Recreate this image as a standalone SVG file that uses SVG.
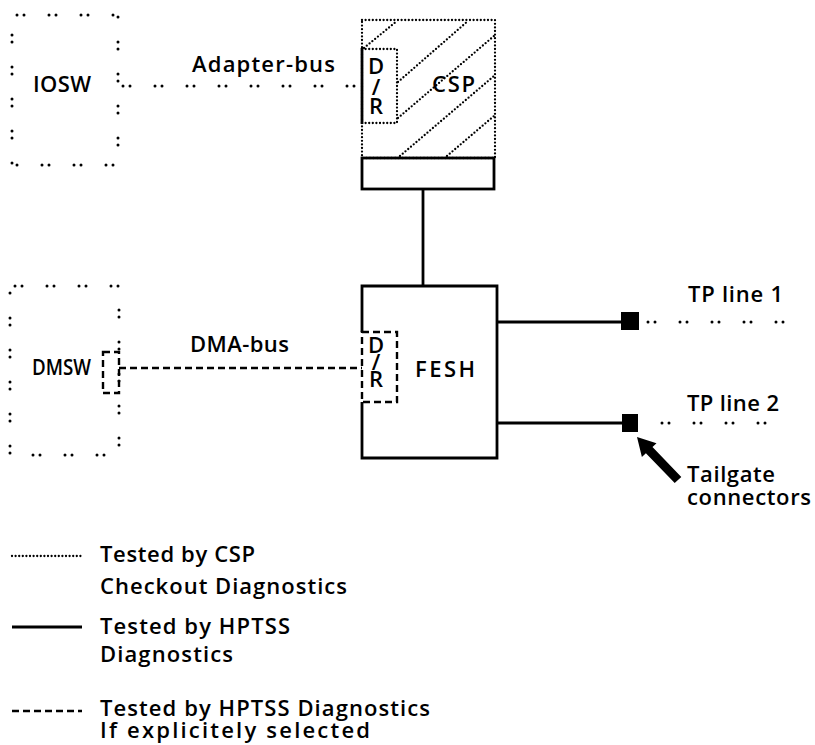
<svg xmlns="http://www.w3.org/2000/svg" width="815" height="745" viewBox="0 0 815 745">
<defs>
<style>
text{font-family:"Open Sans","DejaVu Sans",sans-serif;font-weight:600;font-size:22px;fill:#000}
.dd{fill:none;stroke:#000;stroke-width:3;stroke-linecap:round;stroke-dasharray:0 7 0 25}
.dot{fill:none;stroke:#000;stroke-width:2.3;stroke-linecap:round;stroke-dasharray:0 3.6}
.dash{fill:none;stroke:#000;stroke-width:2.4;stroke-dasharray:7 4}
.solid{fill:none;stroke:#000;stroke-width:2.8}
</style>
</defs>
<rect width="815" height="745" fill="#fff"/>

<g id="IOSW">
<rect class="dd" x="12" y="15" width="106" height="150" stroke-dashoffset="27"/>
<text x="33" y="92" textLength="58">IOSW</text>
</g>

<g id="DMSW">
<rect class="dd" x="10" y="286" width="109" height="169" stroke-dashoffset="27"/>
<rect class="dash" x="103" y="352" width="16" height="41"/>
<text x="32" y="375" textLength="59" lengthAdjust="spacingAndGlyphs">DMSW</text>
</g>

<g id="CSP">
<rect class="dot" x="362" y="20" width="133" height="138"/>
<g class="dot">
<line x1="364" y1="48" x2="397" y2="21"/>
<line x1="398" y1="82" x2="468" y2="21"/>
<line x1="398" y1="118" x2="494" y2="36"/>
<line x1="400" y1="156" x2="494" y2="76"/>
<line x1="447" y1="156" x2="494" y2="116"/>
</g>
<path class="dot" d="M362,49 H397 V123 H362"/>
<line class="solid" x1="362" y1="48" x2="362" y2="124" stroke-width="3.2"/>
<text text-anchor="middle"><tspan x="376" y="74">D</tspan><tspan x="376" y="95">/</tspan><tspan x="376" y="114">R</tspan></text>
<text x="432" y="92" textLength="43">CSP</text>
<rect class="solid" x="362" y="158" width="132" height="31"/>
</g>

<g id="FESH">
<path class="solid" d="M362,332 V286 H497 V458 H362 V402"/>
<rect class="dash" x="362" y="332" width="35" height="70"/>
<text text-anchor="middle"><tspan x="376" y="353">D</tspan><tspan x="376" y="370">/</tspan><tspan x="376" y="387">R</tspan></text>
<text x="415" y="377" textLength="60">FESH</text>
</g>

<g id="TP1">
<rect x="621" y="312" width="18" height="18" fill="#000"/>
<text x="688" y="302" textLength="95">TP line 1</text>
</g>

<g id="TP2">
<rect x="622" y="414" width="16" height="18" fill="#000"/>
<text x="687" y="411" textLength="92">TP line 2</text>
</g>

<g id="tailgate-label">
<polygon points="637,437 656.5,443.3 652.5,447 681.3,476.9 674.7,483.1 645.9,453.2 641.9,456.9" fill="#000"/>
<text x="687" y="482" textLength="88">Tailgate</text>
<text x="687" y="505" textLength="124">connectors</text>
</g>

<g id="connectors">
<line class="dd" x1="118" y1="86" x2="362" y2="86" stroke-dashoffset="27"/>
<text x="192" y="72" textLength="143">Adapter-bus</text>
<line class="dash" x1="119" y1="368" x2="362" y2="368"/>
<text x="190" y="352" textLength="99">DMA-bus</text>
<line class="solid" x1="423" y1="189" x2="423" y2="286"/>
<line class="solid" x1="497" y1="322" x2="621" y2="322"/>
<line class="dd" x1="648" y1="322" x2="792" y2="322"/>
<line class="solid" x1="497" y1="423" x2="622" y2="423"/>
<line class="dd" x1="662" y1="423" x2="770" y2="423"/>
</g>

<g id="legend">
<line class="dot" x1="12" y1="556" x2="82" y2="556" stroke-width="1.6" stroke-dasharray="0 3"/>
<text x="100" y="562" textLength="155">Tested by CSP</text>
<text x="100" y="594" textLength="247">Checkout Diagnostics</text>
<line class="solid" x1="12" y1="627" x2="82" y2="627"/>
<text x="100" y="634" textLength="190">Tested by HPTSS</text>
<text x="100" y="662" textLength="133">Diagnostics</text>
<line class="dash" x1="12" y1="711" x2="82" y2="711"/>
<text x="100" y="716" textLength="330">Tested by HPTSS Diagnostics</text>
<text x="100" y="738" textLength="270">If explicitely selected</text>
</g>
</svg>
